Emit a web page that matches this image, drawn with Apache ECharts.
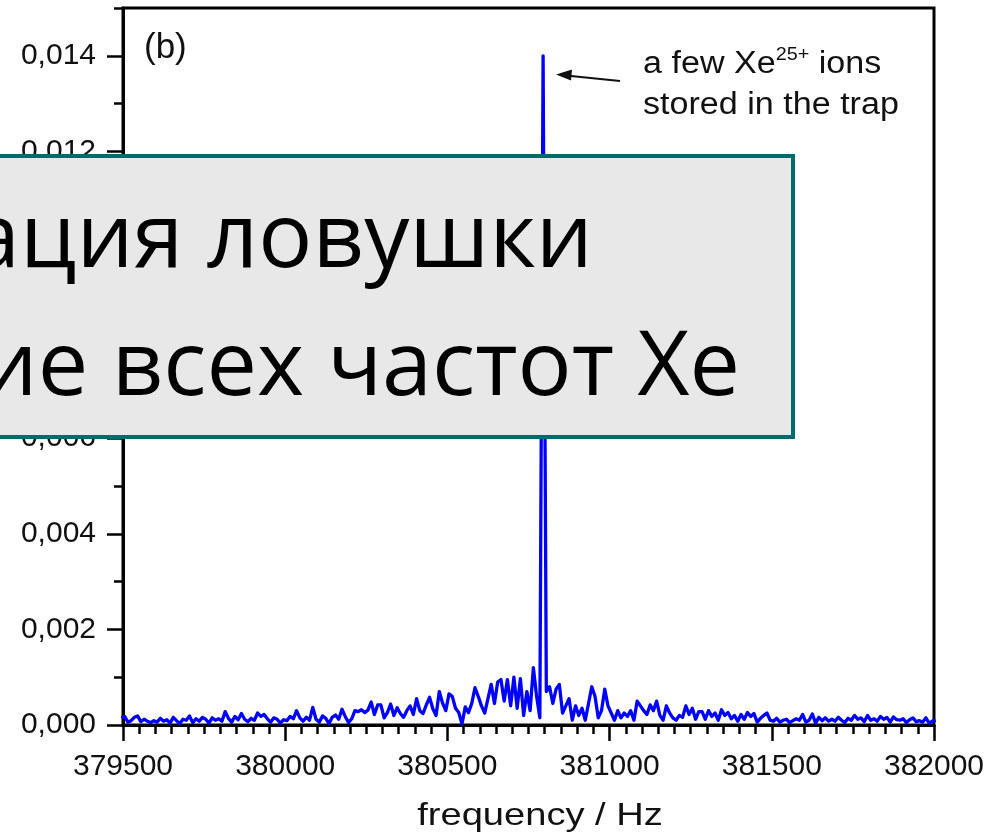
<!DOCTYPE html>
<html>
<head>
<meta charset="utf-8">
<script src="https://cdn.jsdelivr.net/npm/echarts@6/dist/echarts.min.js"></script>
<style>
  html, body { margin: 0; padding: 0; background: #ffffff; }
  #chart { width: 999px; height: 839px; }
</style>
</head>
<body>
<div id="chart"></div>
<script>
// Spectrum sampled every 10 Hz, starting just left of the axis range
const freqStart = 379495;
const freqStep = 10;
// Signal amplitude in units of 1e-4
const amplitudeE4 = [
  1.5, 1.8, 0.6, 0.9, 1.6, 1.9, 0.7, 1.2, 0.8, 0.5,
  0.9, 0.6, 1.4, 0.8, 1.1, 0.4, 1.6, 0.9, 0.3, 1.2,
  1.0, 1.9, 0.5, 1.3, 0.8, 1.6, 1.2, 0.4, 1.5, 1.0,
  1.3, 0.8, 2.8, 1.4, 0.6, 1.8, 1.1, 2.4, 1.2, 0.7,
  1.4, 1.0, 2.5, 1.8, 2.2, 1.3, 0.6, 1.5, 1.2, 0.4,
  1.1, 0.9, 1.8, 1.3, 3.0, 1.5, 0.8, 1.6, 1.0, 3.7,
  1.2, 0.6, 1.9, 1.4, 0.3, 1.6, 2.1, 1.2, 3.3, 1.8,
  0.5, 1.3, 3.0, 2.8, 3.2, 2.6, 3.1, 4.8, 2.2, 4.2,
  4.2, 1.5, 2.6, 4.4, 2.0, 3.6, 2.4, 1.6, 3.0, 4.0,
  2.2, 5.5, 3.0, 2.4, 4.2, 5.8, 3.4, 2.0, 7.0, 4.6,
  3.0, 6.5, 6.0, 3.5, 2.6, 0.2, 3.8, 2.6, 4.5, 7.8,
  6.0, 4.0, 2.5, 5.5, 8.5, 4.5, 9.0, 9.5, 5.0, 9.5,
  4.0, 10.0, 3.5, 9.7, 2.0, 7.0, 3.0, 12.0, 6.0, 1.5,
  140.0, 7.0, 8.0, 4.5, 7.5, 8.5, 2.5, 4.0, 5.5, 1.0,
  4.0, 2.0, 3.5, 1.0, 4.5, 8.0, 6.0, 1.5, 3.0, 7.5,
  4.0, 2.5, 1.0, 3.0, 1.5, 2.5, 1.8, 3.0, 1.0, 5.0,
  4.0, 3.0, 2.2, 4.2, 3.0, 5.0, 2.0, 1.0, 4.0, 2.5,
  1.5, 1.0, 2.0, 1.6, 4.0, 2.2, 3.5, 1.2, 2.8, 2.8,
  1.2, 3.0, 1.8, 2.5, 1.0, 3.2, 2.0, 2.6, 1.3, 2.0,
  0.8, 2.2, 1.2, 2.6, 1.8, 2.4, 0.6, 1.4, 2.0, 2.5,
  1.0, 0.8, 1.4, 0.6, 1.0, 1.2, 0.5, 0.9, 1.3, 1.0,
  2.2, 0.6, 1.0, 2.3, 0.4, 1.6, 0.9, 1.5, 0.8, 1.2,
  0.8, 1.6, 1.0, 0.5, 1.4, 1.0, 2.0, 1.2, 1.5, 0.7,
  2.0, 1.0, 1.3, 0.8, 1.8, 1.2, 1.6, 0.6, 1.7, 1.1,
  1.0, 1.3, 0.5, 1.1, 1.5, 0.7, 0.9, 0.6, 1.5, 0.4,
  0.8, 1.0
];

// Axis ticks
const xTickValues = [379500, 380000, 380500, 381000, 381500, 382000];
const yTickValues = [0, 0.002, 0.004, 0.006, 0.008, 0.010, 0.012, 0.014];
const yMax = 0.015;

const axisFont = 'Liberation Sans, Arial, sans-serif';

const spectrum = amplitudeE4.map((a, i) => [freqStart + i * freqStep, a * 1e-4]);

const chart = echarts.init(document.getElementById('chart'), null, { renderer: 'canvas' });

chart.setOption({
  animation: false,
  backgroundColor: '#ffffff',
  grid: {
    left: 123, right: 65, top: 8, bottom: 114,
    show: true, borderColor: '#000', borderWidth: 3, backgroundColor: 'transparent'
  },
  xAxis: {
    type: 'value',
    min: xTickValues[0],
    max: xTickValues[xTickValues.length - 1],
    interval: xTickValues[1] - xTickValues[0],
    axisLine: { show: true, onZero: false, lineStyle: { color: '#000', width: 3 } },
    axisTick: { show: true, length: 16, lineStyle: { color: '#000', width: 2.5 } },
    minorTick: { show: true, splitNumber: 10, length: 9, lineStyle: { color: '#000', width: 2.5 } },
    splitLine: { show: false },
    axisLabel: {
      margin: 27, fontSize: 30, color: '#111', fontFamily: axisFont,
      formatter: v => String(v)
    }
  },
  yAxis: [
    {
      // minor ticks every 0.001
      type: 'value', min: 0, max: yMax, interval: 0.001,
      axisLine: { show: true, lineStyle: { color: '#000', width: 3 } },
      axisTick: { show: true, length: 9, lineStyle: { color: '#000', width: 2.5 } },
      axisLabel: { show: false },
      splitLine: { show: false }
    },
    {
      // labelled major ticks
      type: 'value', min: 0, max: yMax, interval: 0.002, position: 'left',
      axisLine: { show: false },
      axisTick: { show: true, length: 16, customValues: yTickValues, lineStyle: { color: '#000', width: 2.5 } },
      axisLabel: {
        margin: 27, fontSize: 30, color: '#111', fontFamily: axisFont,
        customValues: yTickValues,
        formatter: v => (yTickValues.some(t => Math.abs(t - v) < 1e-9) ? v.toFixed(3).replace('.', ',') : '')
      },
      splitLine: { show: false }
    }
  ],
  series: [{
    type: 'line',
    yAxisIndex: 0,
    data: spectrum,
    showSymbol: false,
    symbol: 'none',
    clip: true,
    lineStyle: { color: '#0000ff', width: 3.3, join: 'round' }
  }],
  graphic: [
    {
      type: 'text', x: 144, y: 31, z: 50,
      style: { text: '(b)', font: '35px ' + axisFont, fill: '#111' }
    },
    {
      type: 'text', x: 643, y: 44, z: 50, scaleX: 1.1,
      style: {
        text: '{n|a few Xe}{sup|25+}{n| ions}\n{n|stored in the trap}',
        rich: {
          n: { fontSize: 31, fontFamily: axisFont, fill: '#111', lineHeight: 41 },
          sup: { fontSize: 18, fontFamily: axisFont, fill: '#111', verticalAlign: 'top', lineHeight: 18, padding: [2, 0, 0, 0] }
        }
      }
    },
    {
      type: 'line', z: 50,
      shape: { x1: 620, y1: 81, x2: 566, y2: 75.5 },
      style: { stroke: '#111', lineWidth: 2 }
    },
    {
      type: 'polygon', z: 50,
      shape: { points: [[556, 74.5], [572, 69.5], [571, 80.5]] },
      style: { fill: '#111' }
    },
    {
      type: 'text', x: 540, y: 800, z: 50, scaleX: 1.19,
      style: { text: 'frequency / Hz', font: '32px ' + axisFont, fill: '#111', align: 'center' }
    },
    {
      type: 'group', z: 100,
      children: [
        {
          type: 'rect', z: 100,
          shape: { x: -10, y: 156, width: 803, height: 281 },
          style: { fill: '#e8e8e8', stroke: '#006b6b', lineWidth: 4 }
        },
        {
          type: 'text', z: 101, x: 593, y: 196,
          style: { text: 'ация ловушки', font: '90px "Open Sans", sans-serif', fill: '#000', align: 'right' }
        },
        {
          type: 'text', z: 101, x: 740, y: 324,
          style: { text: 'ие всех частот Xe', font: '90px "Open Sans", sans-serif', fill: '#000', align: 'right' }
        }
      ]
    }
  ]
});
</script>
</body>
</html>
